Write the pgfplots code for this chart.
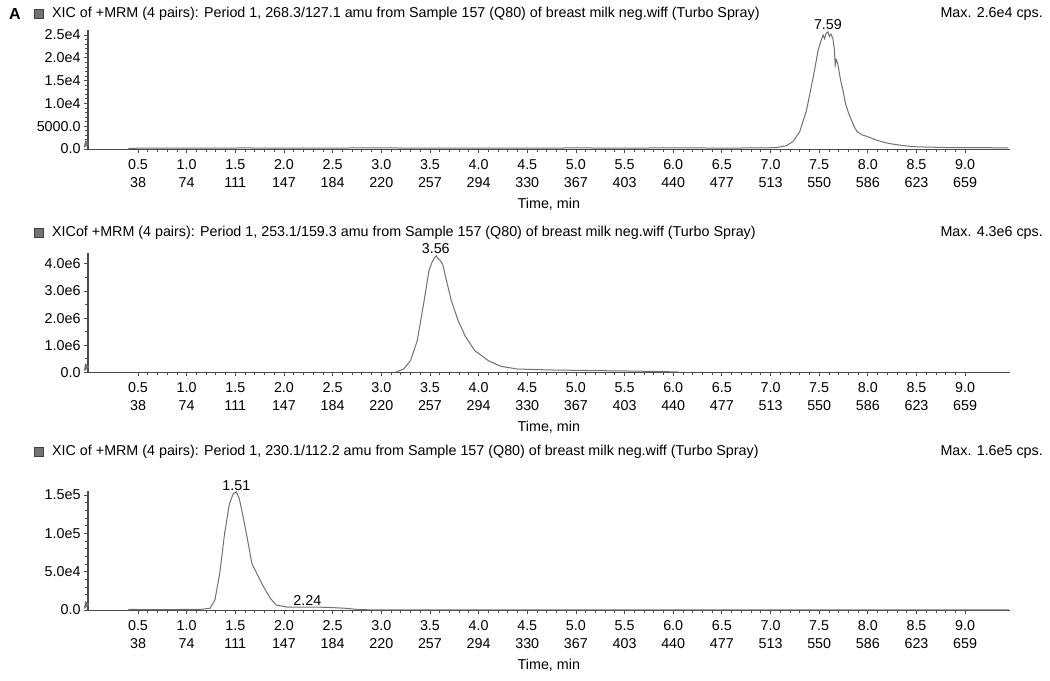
\documentclass[border=0pt]{standalone}
\usepackage{fontspec}
\setmainfont{Liberation Sans}
\usepackage{pgfplots}
\pgfplotsset{compat=1.18}
\definecolor{axc}{HTML}{4A4A4A}
\definecolor{trc}{HTML}{707070}
\newcommand{\fs}{\fontsize{14.3bp}{18bp}\selectfont}
\tikzset{pk/.style={font=\fs, anchor=south, inner sep=1.5bp}}
\pgfplotsset{
  xicaxis/.style={
    scale only axis, width=922.3bp, height=119bp,
    xmin=-0.017, xmax=9.461, ymin=0,
    axis x line=bottom, axis y line=left,
    axis line style={-, axc, line width=1bp},
    every outer y axis line/.append style={line width=1.6bp},
    tick align=outside, tick style={axc, line width=0.8bp},
    major tick length=4bp, minor tick length=2.5bp,
    xtick={0.5,1.0,...,9.0},
    minor x tick num=4,
    xticklabels={{0.5\\38},{1.0\\74},{1.5\\111},{2.0\\147},{2.5\\184},{3.0\\220},{3.5\\257},{4.0\\294},{4.5\\330},{5.0\\367},{5.5\\403},{6.0\\440},{6.5\\477},{7.0\\513},{7.5\\550},{8.0\\586},{8.5\\623},{9.0\\659}},
    xticklabel style={align=center, font=\fs, inner sep=2bp, yshift=-4bp},
    yticklabel style={font=\fs, inner sep=3bp},
    scaled y ticks=false,
    xlabel={Time, min},
    xlabel style={at={(rel axis cs:0.5,0)}, anchor=center, yshift=-55bp, font=\fs},
    clip=false,
  },
  trace/.style={trc, line width=1bp, no marks},
}
\newcommand{\titlebox}[1]{\fill[black!55, draw=black!75, line width=0.5bp] (34bp,#1-4.5bp) rectangle (43bp,#1+4.5bp);}
\begin{document}
\begin{tikzpicture}[font=\fs]
\path[use as bounding box] (0,0) rectangle (1050bp,-681bp);
% ---------- panel 1 ----------
\node[anchor=west, font=\fontsize{16bp}{16bp}\selectfont\bfseries, inner sep=0] at (9bp,-14bp) {A};
\titlebox{-14bp}
\node[anchor=west, inner sep=0] at (52bp,-14bp) {XIC of +MRM (4 pairs): Period 1, 268.3/127.1 amu from Sample 157 (Q80) of breast milk neg.wiff (Turbo Spray)};
\node[anchor=east, inner sep=0] at (1043bp,-14bp) {Max. 2.6e4 cps.};
\begin{axis}[xicaxis, at={(87.7bp,-149bp)}, anchor=south west,
  ymax=26100, ytick={0,5000,10000,15000,20000,25000},
  yticklabels={0.0,5000.0,1.0e4,1.5e4,2.0e4,2.5e4}, minor y tick num=4]
\addplot[trace] coordinates {
(0.40,150)(0.8,220)(1.2,180)(1.6,230)(2.0,170)(2.5,210)(3.0,240)(3.5,180)(4.0,220)(4.5,190)(5.0,230)(5.5,200)(6.0,240)(6.5,210)(6.9,230)(7.06,300)(7.16,700)(7.23,1600)(7.30,3800)(7.37,8500)(7.44,15900)(7.49,21700)(7.52,23800)(7.54,25000)(7.555,24200)(7.57,25300)(7.59,25700)(7.605,24700)(7.62,25200)(7.64,24300)(7.655,22000)(7.665,18400)(7.675,19600)(7.69,18800)(7.72,15100)(7.745,12800)(7.77,10000)(7.80,8000)(7.83,6400)(7.86,4900)(7.89,3800)(7.94,3100)(8.00,2700)(8.07,2100)(8.14,1600)(8.22,1200)(8.31,900)(8.40,650)(8.48,500)(8.65,400)(8.82,320)(9.0,280)(9.2,300)(9.44,220)
};
\node[pk] at (axis cs:7.59,25700) {7.59};
\fill[black!55] ([xshift=-4bp,yshift=1bp]rel axis cs:0,0) -- ++(0,8bp) -- ++(4bp,-4bp) -- cycle;
\end{axis}
% ---------- panel 2 ----------
\titlebox{-233bp}
\node[anchor=west, inner sep=0] at (52bp,-233bp) {XICof +MRM (4 pairs): Period 1, 253.1/159.3 amu from Sample 157 (Q80) of breast milk neg.wiff (Turbo Spray)};
\node[anchor=east, inner sep=0] at (1043bp,-233bp) {Max. 4.3e6 cps.};
\begin{axis}[xicaxis, at={(87.7bp,-372.3bp)}, anchor=south west,
  ymax=4390000, ytick={0,1000000,2000000,3000000,4000000},
  yticklabels={0.0,1.0e6,2.0e6,3.0e6,4.0e6}, minor y tick num=1]
\addplot[trace] coordinates {
(3.15,10000)(3.23,120000)(3.30,430000)(3.37,1170000)(3.44,2640000)(3.49,3750000)(3.52,4050000)(3.55,4240000)(3.565,4300000)(3.58,4200000)(3.60,4150000)(3.63,4000000)(3.67,3380000)(3.72,2640000)(3.79,1910000)(3.86,1350000)(3.96,800000)(4.10,430000)(4.23,220000)(4.40,120000)(4.74,86000)(5.26,60000)(5.6,45000)(5.91,25000)(6.06,10000)
};
\node[pk] at (axis cs:3.56,4300000) {3.56};
\fill[black!55] ([xshift=-4bp,yshift=1bp]rel axis cs:0,0) -- ++(0,8bp) -- ++(4bp,-4bp) -- cycle;
\end{axis}
% ---------- panel 3 ----------
\titlebox{-452bp}
\node[anchor=west, inner sep=0] at (52bp,-452bp) {XIC of +MRM (4 pairs): Period 1, 230.1/112.2 amu from Sample 157 (Q80) of breast milk neg.wiff (Turbo Spray)};
\node[anchor=east, inner sep=0] at (1043bp,-452bp) {Max. 1.6e5 cps.};
\begin{axis}[xicaxis, at={(87.7bp,-610bp)}, anchor=south west,
  ymax=155200, ytick={0,50000,100000,150000},
  yticklabels={0.0,5.0e4,1.0e5,1.5e5}, minor y tick num=4]
\addplot[trace] coordinates {
(0.40,800)(0.6,500)(0.8,600)(1.0,700)(1.14,800)(1.24,2200)(1.29,13000)(1.34,47800)(1.39,100000)(1.44,139000)(1.48,152000)(1.51,154000)(1.54,145600)(1.58,121700)(1.62,95600)(1.67,60900)(1.72,47800)(1.79,30400)(1.86,15200)(1.92,6500)(2.03,3900)(2.23,3900)(2.44,3500)(2.64,2200)(2.78,400)(3.0,200)(9.45,100)
};
\node[pk] at (axis cs:1.51,154000) {1.51};
\node[pk] at (axis cs:2.24,3900) {2.24};
\fill[black!55] ([xshift=-4bp,yshift=1bp]rel axis cs:0,0) -- ++(0,8bp) -- ++(4bp,-4bp) -- cycle;
\end{axis}
\end{tikzpicture}
\end{document}
